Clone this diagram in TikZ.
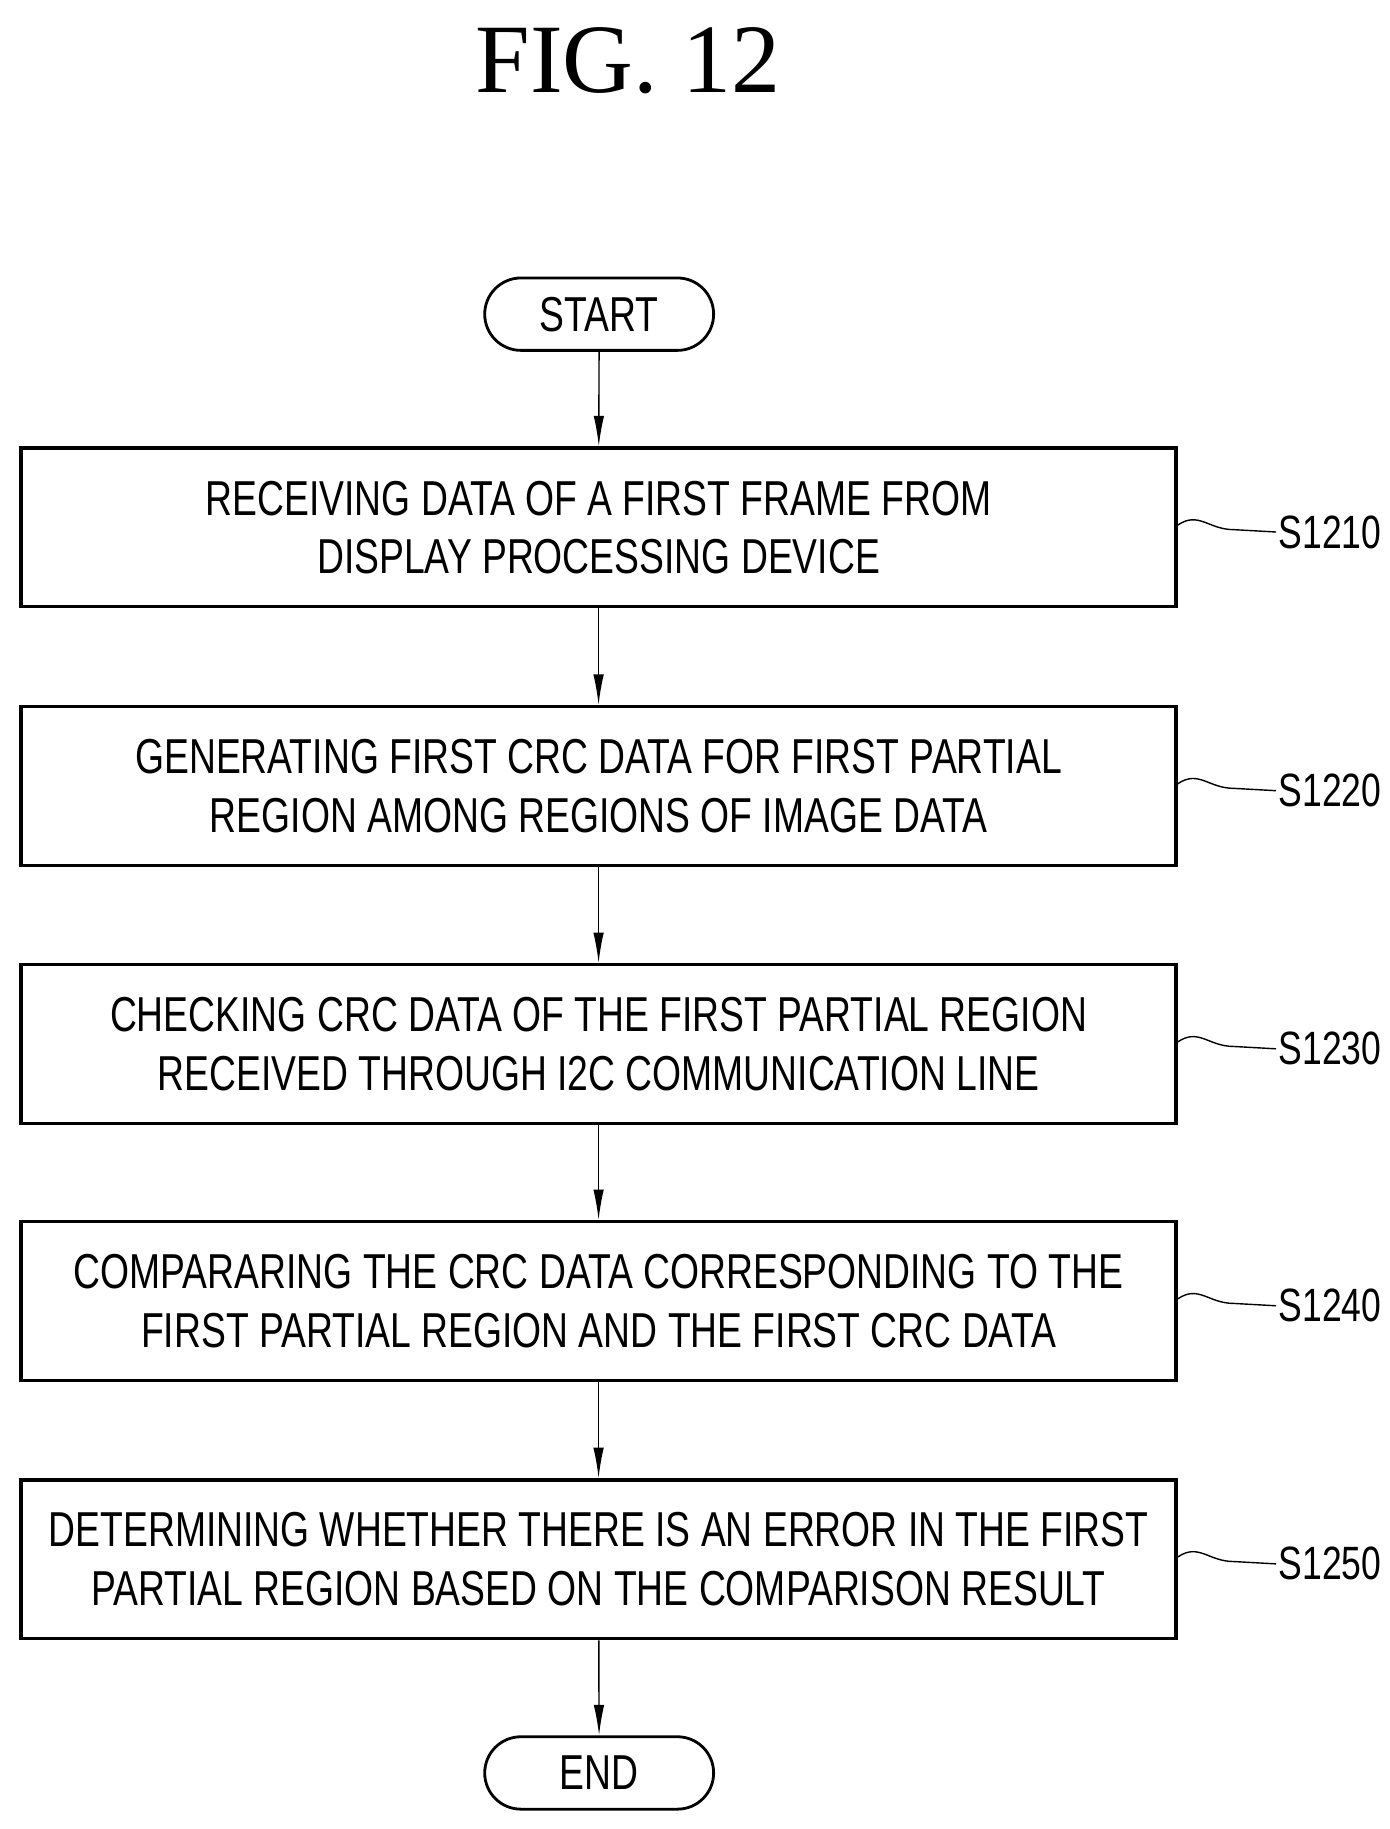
\documentclass[tikz,border=0pt]{standalone}
\usepackage{fontspec}
\setmainfont{Liberation Sans}[FakeStretch=0.76]
\newfontfamily\figfont{Liberation Serif}
\usetikzlibrary{arrows.meta,shapes.misc}
\begin{document}
\begin{tikzpicture}[x=0.5pt,y=-0.5pt,
  box/.style={draw,line width=1.5pt,minimum width=494.5pt,minimum height=68pt,align=center,font=\fontsize{21}{25}\selectfont,inner sep=0pt},
  term/.style={draw,line width=1.2pt,rounded rectangle,minimum width=98pt,minimum height=31pt,font=\fontsize{21}{25}\selectfont,inner sep=0pt},
  arr/.style={line width=0.6pt,-{Latex[length=13pt,width=4.5pt]}},
  lab/.style={font=\fontsize{20}{24}\selectfont,anchor=west,inner sep=0pt}]
\useasboundingbox (0,0) rectangle (1190,1566);
\node[font=\figfont\fontsize{42}{48}\selectfont] (title) at (538,52) {FIG. 12};
\node[term] (start) at (513,269) {START};
\node[box] (b1) at (512.5,451.5) {RECEIVING DATA OF A FIRST FRAME FROM\\DISPLAY PROCESSING DEVICE};
\node[box] (b2) at (512.5,673) {GENERATING FIRST CRC DATA FOR FIRST PARTIAL\\REGION AMONG REGIONS OF IMAGE DATA};
\node[box] (b3) at (512.5,894) {CHECKING CRC DATA OF THE FIRST PARTIAL REGION\\RECEIVED THROUGH I2C COMMUNICATION LINE};
\node[box] (b4) at (512.5,1114) {COMPARARING THE CRC DATA CORRESPONDING TO THE\\FIRST PARTIAL REGION AND THE FIRST CRC DATA};
\node[box] (b5) at (512.5,1335) {DETERMINING WHETHER THERE IS AN ERROR IN THE FIRST\\PARTIAL REGION BASED ON THE COMPARISON RESULT};
\node[term] (end) at (513,1518) {END};
\draw[arr] (start) -- (b1);
\draw[arr] (b1) -- (b2);
\draw[arr] (b2) -- (b3);
\draw[arr] (b3) -- (b4);
\draw[arr] (b4) -- (b5);
\draw[arr] (b5) -- (end);
\foreach \b/\s in {b1/S1210,b2/S1220,b3/S1230,b4/S1240,b5/S1250}{
  \node[lab] (l\b) at ([xshift=43pt,yshift=-2pt]\b.east) {\s};
  \draw[line width=0.6pt] ([yshift=1pt]\b.east) .. controls +(18,-12) and +(-22,0) .. ++(48,4) -- ([xshift=-1pt]l\b.west);
}
\end{tikzpicture}
\end{document}
